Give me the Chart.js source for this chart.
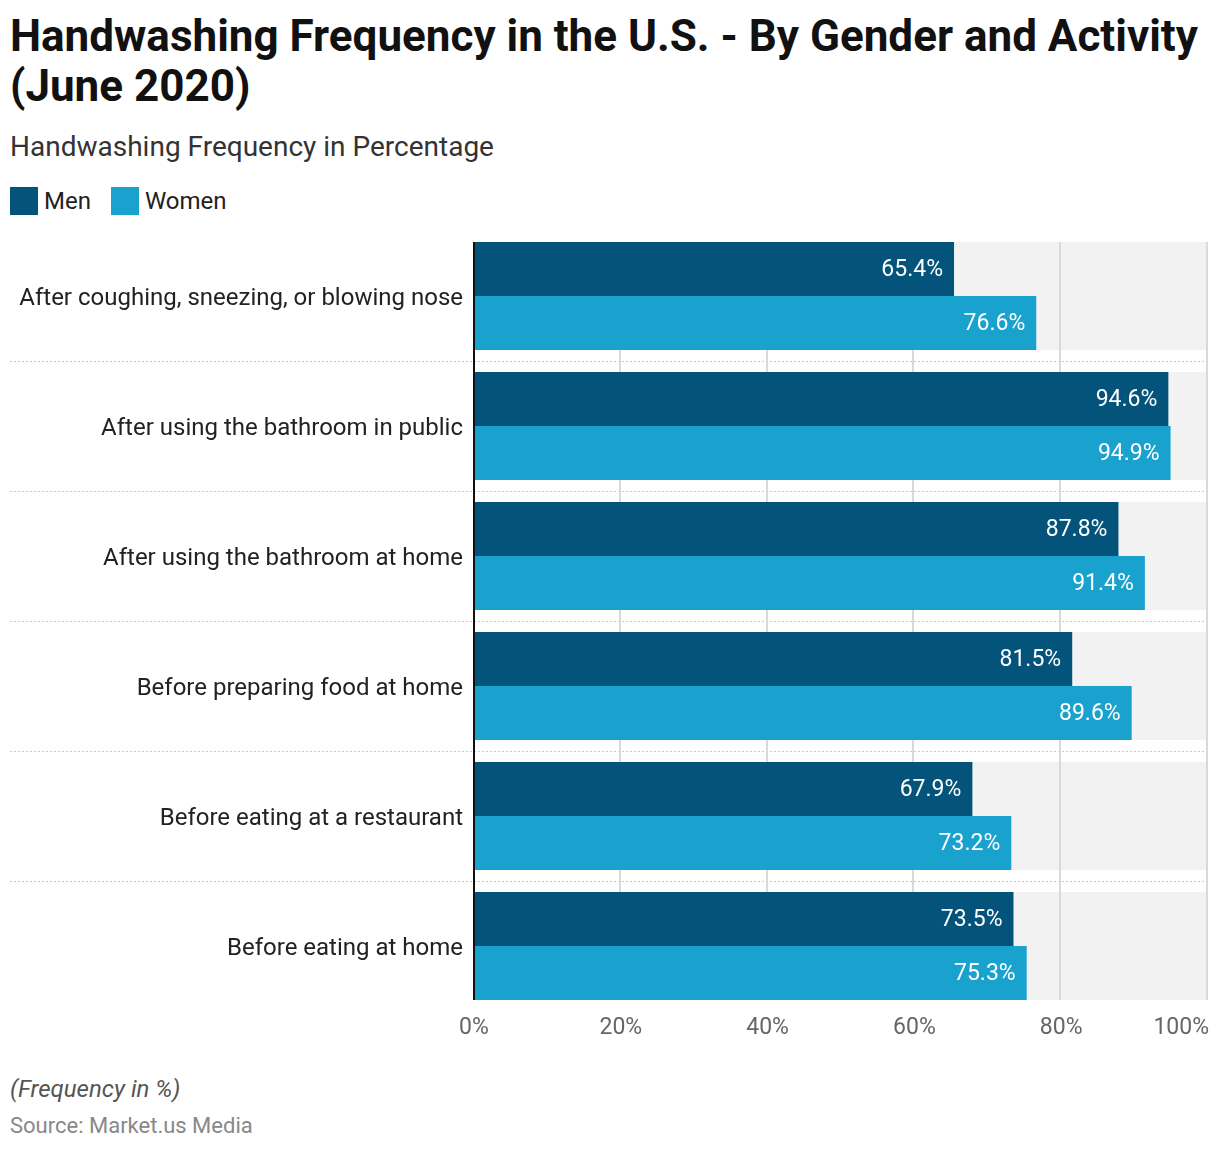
<!DOCTYPE html>
<html>
<head>
<meta charset="utf-8">
<script src="https://cdn.jsdelivr.net/npm/chart.js@4.4.1/dist/chart.umd.min.js"></script>
<style>
    body { margin: 0; background: #fff; font-family: Roboto, sans-serif; width: 1220px; height: 1152px; position: relative; overflow: hidden; }
    #titulo { position: absolute; left: 10px; top: 11px; width: 1205px; font-size: 44px; font-weight: bold; line-height: 50px; color: #111; }
    #subtitulo { position: absolute; left: 10px; top: 130px; font-size: 28px; color: #333; }
    #legenda { position: absolute; left: 10px; top: 187px; height: 28px; font-size: 24px; color: #222; display: flex; align-items: center; }
    #legenda span.box { display: inline-block; width: 28px; height: 28px; margin-right: 6px; }
    #legenda span.item { display: flex; align-items: center; margin-right: 20px; }
    #grafico { position: absolute; left: 0; top: 220px; width: 1220px; height: 830px; }
    #nota { position: absolute; left: 10px; top: 1075px; font-size: 24px; font-style: italic; color: #555; }
    #fonte { position: absolute; left: 10px; top: 1113px; font-size: 22px; color: #888; }
</style>
</head>
<body>
<div id="titulo">Handwashing Frequency in the U.S. - By Gender and Activity (June 2020)</div>
<div id="subtitulo">Handwashing Frequency in Percentage</div>
<div id="legenda">
    <span class="item"><span class="box" style="background:#03537b"></span>Men</span>
    <span class="item"><span class="box" style="background:#1aa2ce"></span>Women</span>
</div>
<div id="grafico"><canvas id="canvasGrafico"></canvas></div>
<div id="nota">(Frequency in %)</div>
<div id="fonte">Source: Market.us Media</div>

<script>
// Dados do gráfico
const atividades = [
    'After coughing, sneezing, or blowing nose',
    'After using the bathroom in public',
    'After using the bathroom at home',
    'Before preparing food at home',
    'Before eating at a restaurant',
    'Before eating at home'
];
const homens = [65.4, 94.6, 87.8, 81.5, 67.9, 73.5];
const mulheres = [76.6, 94.9, 91.4, 89.6, 73.2, 75.3];
const ticksX = [0, 20, 40, 60, 80, 100];

const corHomens = '#03537b';
const corMulheres = '#1aa2ce';
const PCT_CATEGORIA = 108 / 130;

// Faixas cinzas, linhas de grade e separadores
const fundoPlugin = {
    id: 'fundo',
    beforeDatasetsDraw(chart) {
        const ctx = chart.ctx;
        const x = chart.scales.x;
        const y = chart.scales.y;
        const passo = (y.bottom - y.top) / atividades.length;
        const meia = passo * PCT_CATEGORIA / 2;
        const topo = y.getPixelForValue(0) - meia;
        const base = y.getPixelForValue(atividades.length - 1) + meia;
        ctx.save();
        ctx.fillStyle = '#f2f2f2';
        atividades.forEach((a, i) => {
            const c = y.getPixelForValue(i);
            ctx.fillRect(x.left, c - meia, x.right - x.left, meia * 2);
        });
        // separadores pontilhados
        ctx.strokeStyle = '#c8c8c8';
        ctx.lineWidth = 1;
        ctx.setLineDash([2, 2]);
        for (let i = 0; i < atividades.length - 1; i++) {
            const yy = Math.round(y.getPixelForValue(i) + passo / 2) + 0.5;
            ctx.beginPath();
            ctx.moveTo(10, yy);
            ctx.lineTo(x.right, yy);
            ctx.stroke();
        }
        ctx.setLineDash([]);
        // grade vertical
        ctx.strokeStyle = '#d9d9d9';
        ctx.lineWidth = 2;
        ticksX.slice(1).forEach(v => {
            const xx = Math.round(x.getPixelForValue(v)) - 1;
            ctx.beginPath();
            ctx.moveTo(xx, topo);
            ctx.lineTo(xx, base);
            ctx.stroke();
        });
        ctx.restore();
    },
    afterDatasetsDraw(chart) {
        const ctx = chart.ctx;
        const x = chart.scales.x;
        const y = chart.scales.y;
        const passo = (y.bottom - y.top) / atividades.length;
        const meia = passo * PCT_CATEGORIA / 2;
        const topo = y.getPixelForValue(0) - meia;
        const base = y.getPixelForValue(atividades.length - 1) + meia;
        ctx.save();
        // eixo
        ctx.strokeStyle = '#111';
        ctx.lineWidth = 2;
        ctx.beginPath();
        ctx.moveTo(x.left, topo);
        ctx.lineTo(x.left, base);
        ctx.stroke();
        // rótulos das barras
        ctx.font = '23px Roboto';
        ctx.fillStyle = '#fff';
        ctx.textAlign = 'right';
        ctx.textBaseline = 'middle';
        chart.data.datasets.forEach((ds, di) => {
            chart.getDatasetMeta(di).data.forEach((bar, i) => {
                ctx.fillText(ds.data[i].toFixed(1) + '%', bar.x - 11, bar.y + 1);
            });
        });
        // rótulos do eixo x
        ctx.font = '23px Roboto';
        ctx.fillStyle = '#666';
        ctx.textBaseline = 'middle';
        ticksX.forEach(v => {
            const xx = x.getPixelForValue(v);
            const txt = v + '%';
            if (v === 100) {
                ctx.textAlign = 'right';
                ctx.fillText(txt, xx + 1, base + 28);
            } else {
                ctx.textAlign = 'center';
                ctx.fillText(txt, xx, base + 28);
            }
        });
        ctx.restore();
    }
};

new Chart(document.getElementById('canvasGrafico'), {
    type: 'bar',
    data: {
        labels: atividades,
        datasets: [
            { label: 'Men', data: homens, backgroundColor: corHomens, borderWidth: 0 },
            { label: 'Women', data: mulheres, backgroundColor: corMulheres, borderWidth: 0 }
        ]
    },
    options: {
        indexAxis: 'y',
        responsive: true,
        maintainAspectRatio: false,
        animation: false,
        layout: { padding: { top: 11, right: 12, bottom: 39, left: 0 } },
        datasets: { bar: { barPercentage: 1, categoryPercentage: PCT_CATEGORIA } },
        scales: {
            x: {
                display: false,
                min: 0,
                max: 100
            },
            y: {
                grid: { display: false, drawTicks: false },
                border: { display: false },
                ticks: { color: '#222', font: { family: 'Roboto', size: 24 }, padding: 11, labelOffset: 3 },
                afterFit: scale => {
                    scale.width = 474;
                    scale.paddingTop = 0;
                    scale.paddingBottom = 0;
                }
            }
        },
        plugins: {
            legend: { display: false },
            tooltip: { enabled: false }
        }
    },
    plugins: [fundoPlugin]
});
</script>
</body>
</html>
